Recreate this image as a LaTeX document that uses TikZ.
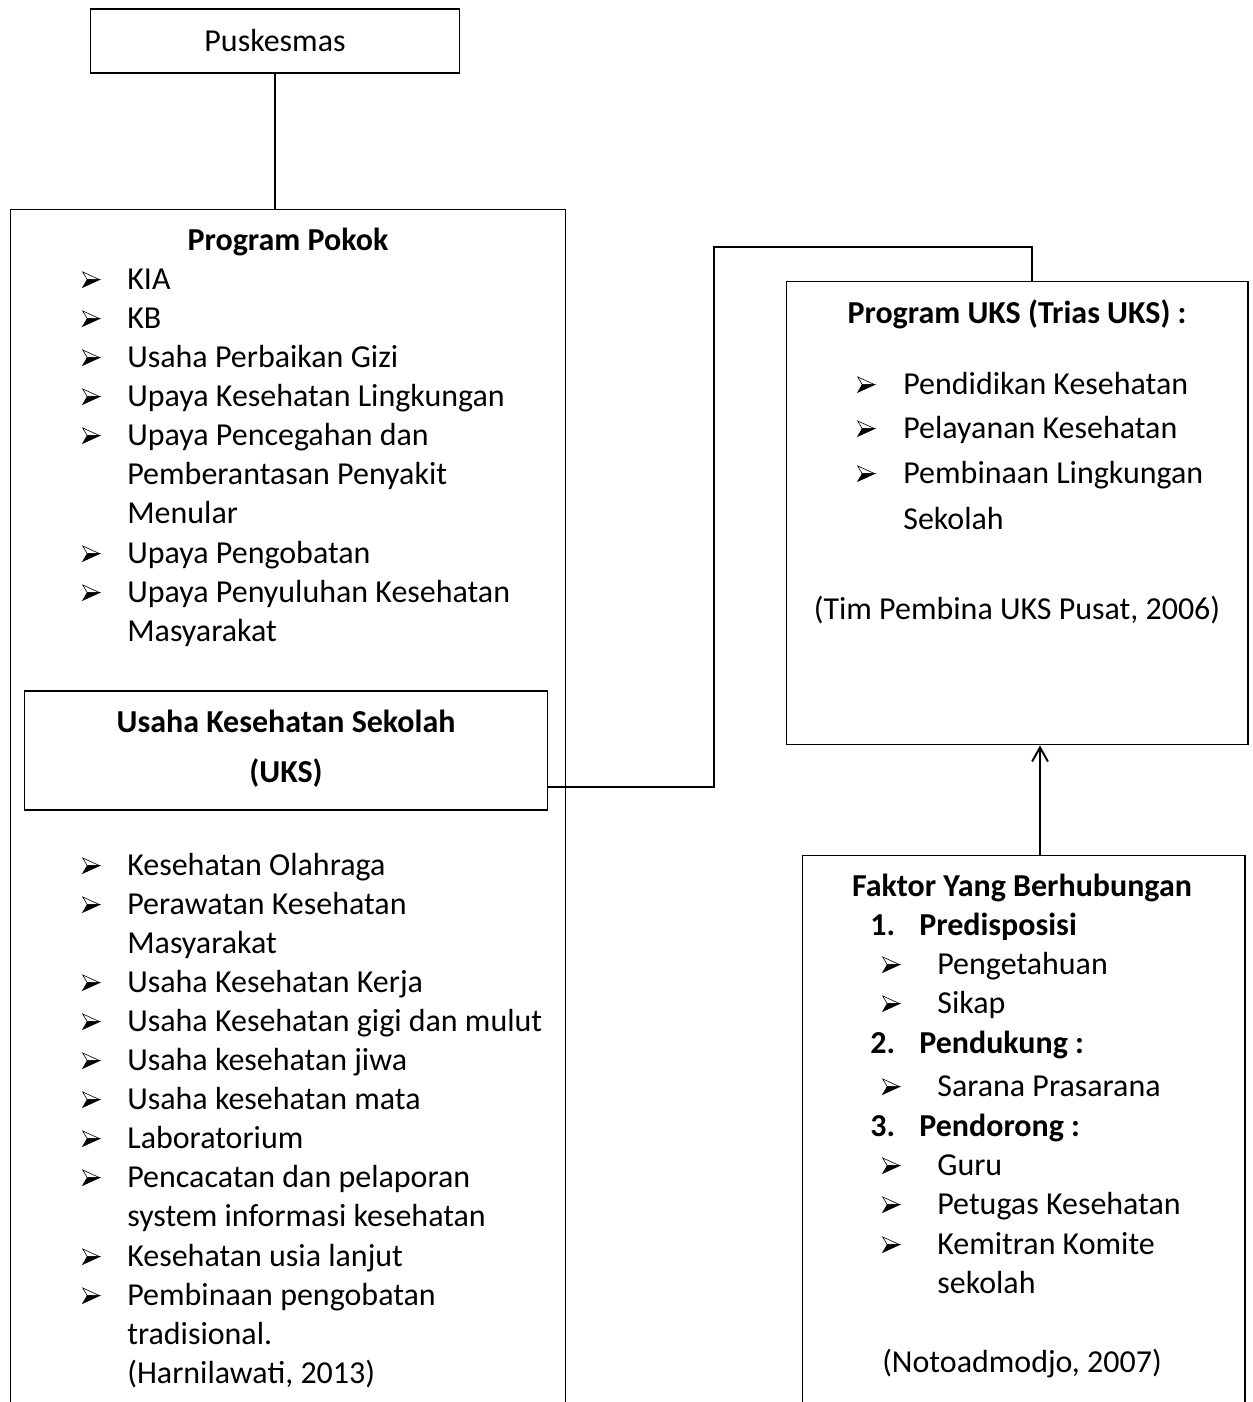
\documentclass[tikz,border=0pt]{standalone}
\usepackage{fontspec}
\setmainfont{Carlito}
\usepackage{tikz}
\usetikzlibrary{arrows, arrows.meta, positioning}

% 3D arrowhead bullet: upper half open, lower half black
\newcommand{\itembul}[1][0.9cm]{\makebox[#1][l]{\tikz[x=1pt,y=1pt,baseline=0pt,line width=0.35pt,line join=miter]{
    \draw[fill=white] (0,10) -- (9.7,5.6) -- (2.6,5.6) -- cycle;
    \draw[fill=black] (0,1.2) -- (9.7,5.6) -- (2.6,5.6) -- cycle;}}}

\begin{document}
\begin{tikzpicture}[x=0.02cm,y=-0.02cm,font=\fontsize{18.2}{22}\selectfont,>={Straight Barb[length=8pt,width=9pt]}]
    \tikzstyle{box}=[shape=rectangle,draw,line width=0.6pt,inner sep=0pt]
    \tikzstyle{item}=[anchor=base west,inner sep=0pt,yshift=-0.05cm]
    \tikzstyle{head}=[anchor=base,inner sep=0pt,yshift=-0.05cm,font=\fontsize{18.2}{22}\selectfont\bfseries]
    \tikzstyle{line}=[draw,line width=0.7pt]

    \useasboundingbox (0,0) rectangle (1253,1402);
    \clip (0,0) rectangle (1253,1402);

    % boxes
    \node[box,minimum width=7.4cm,minimum height=1.28cm] (puskesmas) at (275,41) {Puskesmas};
    \node[box,minimum width=11.12cm,minimum height=24.42cm] (pokok) at (288,819.5) {};
    \node[box,minimum width=10.48cm,minimum height=2.38cm] (uks) at (286,750.5) {};
    \node[box,minimum width=9.24cm,minimum height=9.28cm] (trias) at (1017,513) {};
    \node[box,minimum width=8.86cm,minimum height=11.5cm] (faktor) at (1023.5,1142.5) {};

    % program pokok
    \node[head] (pokoktitle) at (288,248) {Program Pokok};
    \node[item] (p1) at (82,287) {\itembul KIA};
    \node[item] (p2) at (82,326) {\itembul KB};
    \node[item] (p3) at (82,365) {\itembul Usaha Perbaikan Gizi};
    \node[item] (p4) at (82,404) {\itembul Upaya Kesehatan Lingkungan};
    \node[item] (p5) at (82,443) {\itembul Upaya Pencegahan dan};
    \node[item] (p5b) at (127,482) {Pemberantasan Penyakit};
    \node[item] (p5c) at (127,521) {Menular};
    \node[item] (p6) at (82,561) {\itembul Upaya Pengobatan};
    \node[item] (p7) at (82,600) {\itembul Upaya Penyuluhan Kesehatan};
    \node[item] (p7b) at (127,639) {Masyarakat};

    % uks
    \node[head] (ukstitle) at (286,730) {Usaha Kesehatan Sekolah};
    \node[head] (ukstitleb) at (286,780) {(UKS)};

    \node[item] (u1) at (82,873) {\itembul Kesehatan Olahraga};
    \node[item] (u2) at (82,912) {\itembul Perawatan Kesehatan};
    \node[item] (u2b) at (127,951) {Masyarakat};
    \node[item] (u3) at (82,990) {\itembul Usaha Kesehatan Kerja};
    \node[item] (u4) at (82,1029) {\itembul Usaha Kesehatan gigi dan mulut};
    \node[item] (u5) at (82,1068) {\itembul Usaha kesehatan jiwa};
    \node[item] (u6) at (82,1107) {\itembul Usaha kesehatan mata};
    \node[item] (u7) at (82,1146) {\itembul Laboratorium};
    \node[item] (u8) at (82,1185) {\itembul Pencacatan dan pelaporan};
    \node[item] (u8b) at (127,1224) {system informasi kesehatan};
    \node[item] (u9) at (82,1264) {\itembul Kesehatan usia lanjut};
    \node[item] (u10) at (82,1303) {\itembul Pembinaan pengobatan};
    \node[item] (u10b) at (127,1342) {tradisional.};
    \node[item] (u10c) at (127,1381) {(Harnilawati, 2013)};

    % trias uks
    \node[head] (triastitle) at (1017,321) {Program UKS (Trias UKS) :};
    \node[item] (t1) at (857,392) {\itembul[0.92cm]Pendidikan Kesehatan};
    \node[item] (t2) at (857,436) {\itembul[0.92cm]Pelayanan Kesehatan};
    \node[item] (t3) at (857,481) {\itembul[0.92cm]Pembinaan Lingkungan};
    \node[item] (t3b) at (903,527) {Sekolah};
    \node[anchor=base,inner sep=0pt,yshift=-0.05cm] (triasref) at (1017,617) {(Tim Pembina UKS Pusat, 2006)};

    % faktor
    \node[head] (faktortitle) at (1022,894) {Faktor Yang Berhubungan};
    \node[item,font=\fontsize{18.2}{22}\selectfont\bfseries] (f1) at (870,933) {\makebox[0.98cm][l]{1.}Predisposisi};
    \node[item] (f1a) at (882,972) {\itembul[1.1cm]Pengetahuan};
    \node[item] (f1b) at (882,1011) {\itembul[1.1cm]Sikap};
    \node[item,font=\fontsize{18.2}{22}\selectfont\bfseries] (f2) at (870,1051) {\makebox[0.98cm][l]{2.}Pendukung :};
    \node[item] (f2a) at (882,1094) {\itembul[1.1cm]Sarana Prasarana};
    \node[item,font=\fontsize{18.2}{22}\selectfont\bfseries] (f3) at (870,1134) {\makebox[0.98cm][l]{3.}Pendorong :};
    \node[item] (f3a) at (882,1173) {\itembul[1.1cm]Guru};
    \node[item] (f3b) at (882,1212) {\itembul[1.1cm]Petugas Kesehatan};
    \node[item] (f3c) at (882,1252) {\itembul[1.1cm]Kemitran Komite};
    \node[item] (f3d) at (937,1291) {sekolah};
    \node[anchor=base,inner sep=0pt,yshift=-0.05cm] (faktorref) at (1022,1370) {(Notoadmodjo, 2007)};

    % connectors
    \coordinate (kink) at (714,787);
    \coordinate (top) at (1032,247);
    \coordinate (up) at (1040,800);

    \path[line] (puskesmas.south) -- (puskesmas.south |- pokok.north);
    \path[line] (uks.east |- kink) -- (kink) -- (kink |- top) -- (top) -- (top |- trias.north);
    \path[->,draw,line width=1.1pt] (up |- faktor.north) -- (up |- trias.south);

\end{tikzpicture}
\end{document}
